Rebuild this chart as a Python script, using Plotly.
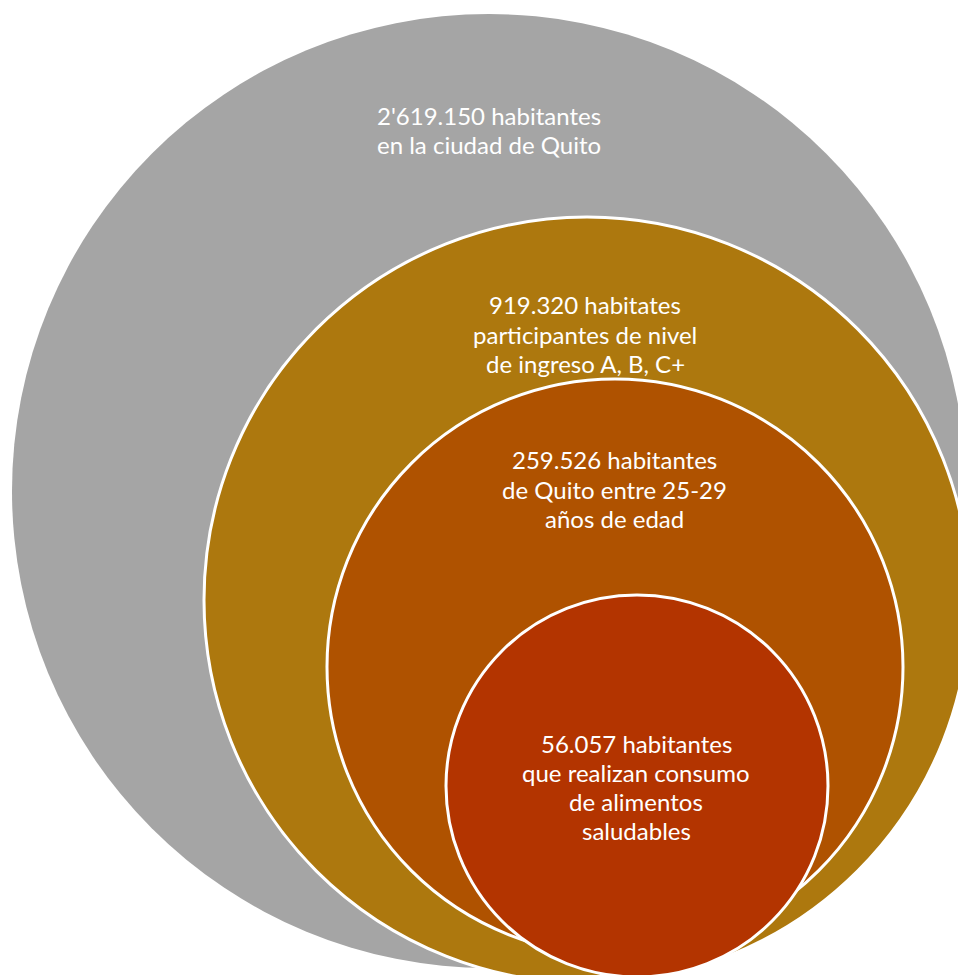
import plotly.graph_objects as go

# --- data ---
poblacion = [2619150, 919320, 259526, 56057]
etiquetas = [
    ["2'619.150 habitantes", "en la ciudad de Quito"],
    ["919.320 habitates", "participantes de nivel", "de ingreso A, B, C+"],
    ["259.526 habitantes", "de Quito entre 25-29", "años de edad"],
    ["56.057 habitantes", "que realizan consumo", "de alimentos", "saludables"],
]
colores = ["#A5A5A5", "#AD780E", "#AF5200", "#B33400"]

# --- layout geometry (diagram space, pixels) ---
centro_x = [489, 587, 615, 637]
centro_y = [491, 600, 667, 786]
radio = [477, 383, 288, 191]
borde = [0, 3, 3, 3]
texto_x = [489, 585, 614, 636]
texto_y = [130, 334, 489, 787]
interlineado = 29.2

W, H = 958, 975
fig = go.Figure()
fig.add_trace(go.Scatter(x=[0, W], y=[0, H], mode="markers",
                         marker=dict(opacity=0), hoverinfo="skip", showlegend=False))

for i in range(len(poblacion)):
    fig.add_shape(type="circle", xref="x", yref="y",
                  x0=centro_x[i] - radio[i], x1=centro_x[i] + radio[i],
                  y0=centro_y[i] - radio[i], y1=centro_y[i] + radio[i],
                  fillcolor=colores[i],
                  line=dict(color="white", width=borde[i]) if borde[i] else dict(width=0),
                  layer="above")
    n = len(etiquetas[i])
    for j, linea in enumerate(etiquetas[i]):
        y = texto_y[i] + (j - (n - 1) / 2) * interlineado
        fig.add_annotation(x=texto_x[i], y=y, xref="x", yref="y",
                           text=linea, showarrow=False,
                           font=dict(family="Lato, Open Sans, sans-serif", size=24, color="white"),
                           align="center", xanchor="center", yanchor="middle")

fig.update_layout(
    width=W, height=H,
    margin=dict(l=0, r=0, t=0, b=0),
    paper_bgcolor="white", plot_bgcolor="white",
    xaxis=dict(range=[0, W], visible=False, fixedrange=True),
    yaxis=dict(range=[H, 0], visible=False, fixedrange=True),
    showlegend=False,
)
fig.write_html("out.html")
